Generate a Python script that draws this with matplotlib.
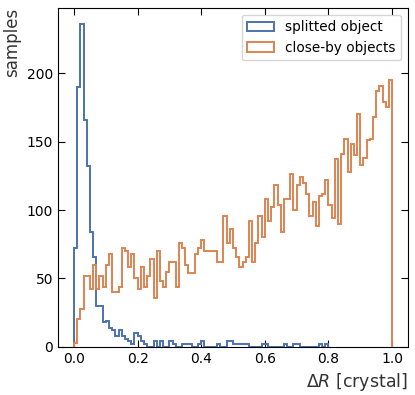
import numpy as np
import matplotlib
matplotlib.use("Agg")
import matplotlib.pyplot as plt

# bin width 0.01 from 0 to 1
bin_edges = np.round(np.arange(0, 1.0001, 0.01), 2)

# counts per bin (splitted object only goes up to 0.8)
splitted = [72, 190, 236, 166, 132, 84, 66, 30, 30, 18,
            19, 14, 12, 8, 12, 8, 6, 4, 2, 10,
            8, 4, 2, 0, 0, 4, 0, 4, 0, 0,
            4, 2, 0, 0, 2, 2, 2, 0, 0, 2,
            4, 0, 0, 0, 0, 2, 0, 0, 4, 4,
            2, 2, 2, 2, 2, 0, 0, 0, 0, 2,
            2, 0, 0, 0, 0, 0, 2, 0, 0, 2,
            2, 0, 0, 0, 0, 0, 0, 2, 0, 2]

closeby = [3, 20, 28, 52, 52, 42, 60, 42, 52, 44,
           60, 68, 40, 40, 44, 72, 70, 58, 68, 50,
           42, 58, 44, 52, 64, 36, 70, 48, 44, 55,
           62, 62, 44, 76, 72, 60, 54, 54, 68, 72,
           78, 70, 70, 70, 70, 62, 62, 96, 76, 86,
           72, 66, 58, 62, 66, 92, 62, 76, 96, 80,
           108, 92, 102, 118, 104, 84, 108, 108, 126, 100,
           118, 124, 120, 112, 96, 106, 88, 110, 112, 122,
           104, 94, 137, 90, 141, 152, 128, 148, 140, 170,
           133, 138, 151, 152, 168, 187, 191, 179, 175, 195]

labels = ["splitted object", "close-by objects"]
colors = ["#4c72b0", "#dd8452"]

fig = plt.figure(figsize=(4.15, 3.95), dpi=100)
ax = fig.add_axes([0.14, 0.122, 0.843, 0.858])

for vals, lab, col in zip([splitted, closeby], labels, colors):
    edges = bin_edges[:len(vals) + 1]
    centers = (edges[:-1] + edges[1:]) / 2
    ax.hist(centers, bins=edges, weights=vals, histtype="step",
            color=col, lw=1.4, label=lab)

ax.set_xlim(-0.05, 1.05)
ax.set_xticks([0.0, 0.2, 0.4, 0.6, 0.8, 1.0])
ax.set_yticks([0, 50, 100, 150, 200])
ax.tick_params(direction="in", top=True, right=True, labelsize=10, length=5)

ax.set_xlabel(r"$\Delta R$ [crystal]", loc="right", fontsize=12.5, color="#333333")
ax.set_ylabel("samples", loc="top", fontsize=12, color="#333333")

ax.legend(loc="upper right", fontsize=9.8)

fig.savefig("out.png", dpi=100)
